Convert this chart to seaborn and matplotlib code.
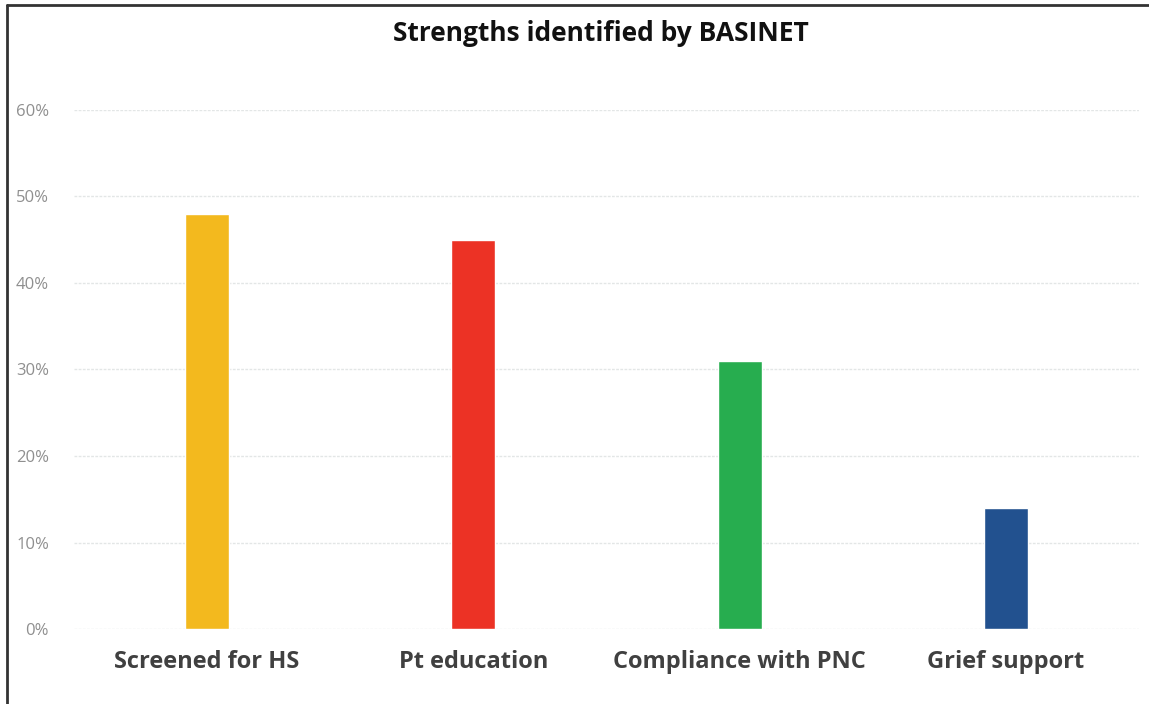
import matplotlib
matplotlib.use("Agg")
import matplotlib.pyplot as plt
import seaborn as sns
import pandas as pd
from matplotlib.ticker import PercentFormatter
from matplotlib.lines import Line2D

categories = ["Screened for HS", "Pt education", "Compliance with PNC", "Grief support"]
values = [0.48, 0.45, 0.31, 0.14]
colors = ["#F3B91E", "#EC3225", "#27AD4F", "#22518F"]
yticks = [0, 0.1, 0.2, 0.3, 0.4, 0.5, 0.6]
title = "Strengths identified by BASINET"

sns.set_theme(style="white")
plt.rcParams['font.family'] = ['Open Sans', 'DejaVu Sans']

df = pd.DataFrame({"cat": categories, "val": values})

fig = plt.figure(figsize=(11.49, 7.04), dpi=100)
ax = fig.add_axes([0.0644, 0.1065, 0.9269, 0.7373])
sns.barplot(data=df, x="cat", y="val", hue="cat", palette=colors, width=0.165,
            legend=False, ax=ax, saturation=1)

ax.set_ylim(0, 0.6)
ax.set_yticks(yticks)
ax.yaxis.set_major_formatter(PercentFormatter(1.0, decimals=0))
ax.set_xlabel("")
ax.set_ylabel("")
for s in ax.spines.values():
    s.set_visible(False)
ax.grid(axis="y", color="#e3e6e6", linewidth=1.0, linestyle=(0, (2, 1)))
ax.set_axisbelow(True)
ax.tick_params(axis="y", length=0, pad=18, labelsize=12, labelcolor="#8f8f8f")
ax.tick_params(axis="x", length=0, pad=15, labelsize=17, labelcolor="#404040")
for lbl in ax.get_xticklabels():
    lbl.set_fontweight("bold")

fig.text(0.523, 0.953, title, ha="center", va="center", fontsize=19,
         fontweight="bold", color="#111111")

# outer frame (left and top edges visible in reference)
fig.add_artist(Line2D([0.0065, 0.0065], [0, 0.993], transform=fig.transFigure,
                      color="#333333", linewidth=2))
fig.add_artist(Line2D([0.0065, 1.0], [0.993, 0.993], transform=fig.transFigure,
                      color="#333333", linewidth=2))

fig.savefig("out.png", dpi=100)
